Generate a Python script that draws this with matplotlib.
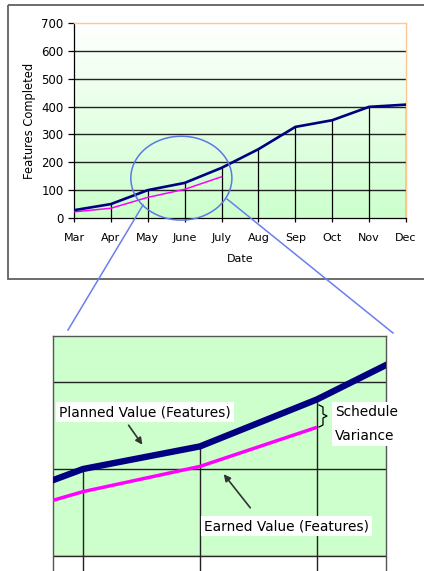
import numpy as np
import matplotlib
matplotlib.use("Agg")
import matplotlib.pyplot as plt
from matplotlib.patches import Ellipse, Rectangle, FancyArrowPatch
from matplotlib.colors import LinearSegmentedColormap

# ---- data ----
months = ["Mar", "Apr", "May", "June", "July", "Aug", "Sep", "Oct", "Nov", "Dec"]
planned = [28, 50, 100, 126, 180, 247, 327, 351, 399, 407]
earned = [22, 35, 74, 103, 148]
yticks = [0, 100, 200, 300, 400, 500, 600, 700]

W, H = 424, 571
fig = plt.figure(figsize=(W / 100, H / 100), dpi=100)
fig.patch.set_facecolor("white")


def px_axes(l, t, r, b):
    return fig.add_axes([l / W, (H - b) / H, (r - l) / W, (b - t) / H])


x = np.arange(len(months))
xe = np.arange(len(earned))
NAVY = "#000080"
MAG = "#ff00ff"
GREEN = "#ccffcc"

# ---- top chart ----
ax = px_axes(74, 23, 406, 218)
grad = LinearSegmentedColormap.from_list("g", ["white", GREEN])
img = np.linspace(1, 0, 256).reshape(-1, 1)
ax.imshow(img, cmap=grad, vmin=0, vmax=1, extent=[0, len(months) - 1, 0, 700],
          aspect="auto", zorder=0, origin="lower")
ax.set_xlim(0, len(months) - 1)
ax.set_ylim(0, 700)
for v in yticks[1:-1]:
    ax.axhline(v, color="#222222", lw=1.0, zorder=1)
ax.vlines(x[1:], 0, planned[1:], color="black", lw=0.9, zorder=2)
ax.plot(xe, earned, color=MAG, lw=1.1, zorder=3)
ax.plot(x, planned, color=NAVY, lw=1.9, zorder=4)
ax.set_xticks(x)
ax.set_xticklabels(months)
ax.set_yticks(yticks)
ax.tick_params(axis="x", direction="out", length=3, width=0.9, pad=8, labelsize=8, colors="black")
ax.tick_params(axis="y", direction="out", length=4.5, width=0.9, pad=3, labelsize=8.5)
for s in ["top", "right"]:
    ax.spines[s].set_color("#ffc890")
    ax.spines[s].set_linewidth(1)
for s in ["left", "bottom"]:
    ax.spines[s].set_color("black")
    ax.spines[s].set_linewidth(0.9)
ax.set_xlabel("Date", fontsize=8, labelpad=8)
ax.set_ylabel("Features Completed", fontsize=8.3, labelpad=4)
ax.add_patch(Ellipse((2.91, 143), 2.74, 301, fill=False, edgecolor="#5a78e6",
                     lw=1.1, clip_on=False, zorder=6))

# ---- bottom (zoomed) chart ----
bx = px_axes(53, 336, 386, 571)
bx.set_xlim(1.744, 4.59)
bx.set_ylim(-17.2, 252.9)
bx.axhspan(0, 300, color=GREEN, zorder=0, lw=0)
for v in [100, 200]:
    bx.axhline(v, color="#222222", lw=1.0, zorder=1)
bx.axhline(0, color="#222222", lw=1.0, zorder=1)
bx.axhline(1.2, color="#e0a060", lw=0.8, zorder=1)
bx.vlines(x[2:5], -17.2, planned[2:5], color="#222222", lw=1.0, zorder=2)
bx.plot(xe, earned, color=MAG, lw=2.5, zorder=3, solid_capstyle="butt")
bx.plot(x, planned, color=NAVY, lw=4.6, zorder=4, solid_capstyle="butt")
bx.set_xticks([])
bx.set_yticks([])
for s in ["left", "right", "top"]:
    bx.spines[s].set_color("#555555")
    bx.spines[s].set_linewidth(1.0)
bx.spines["bottom"].set_visible(False)

# ---- overlay in pixel coords ----
ov = fig.add_axes([0, 0, 1, 1])
ov.set_xlim(0, W)
ov.set_ylim(H, 0)
ov.axis("off")
ov.patch.set_visible(False)
# outer frame of top chart
ov.add_patch(Rectangle((8, 5), 430, 274, fill=False, edgecolor="#606060", lw=1.3))
# connector lines
ov.plot([143, 68], [205, 330], color="#6a7ff0", lw=1.1)
ov.plot([227, 393], [199, 333], color="#6a7ff0", lw=1.1)

fs = 9.9
ov.text(59, 412, "Planned Value (Features)", fontsize=fs, va="center", ha="left",
        bbox=dict(facecolor="white", edgecolor="none", pad=2.5))
ov.text(204, 526, "Earned Value (Features)", fontsize=fs, va="center", ha="left",
        bbox=dict(facecolor="white", edgecolor="none", pad=2.5))
ov.text(335, 424, "Schedule\nVariance", fontsize=fs, va="center", ha="left",
        linespacing=1.85, bbox=dict(facecolor="white", edgecolor="none", pad=2.5))
ov.add_patch(FancyArrowPatch((127, 423), (144, 447), arrowstyle="-|>",
                             mutation_scale=10, color="#333333", lw=1.2))
ov.add_patch(FancyArrowPatch((252, 510), (222, 472), arrowstyle="-|>",
                             mutation_scale=10, color="#333333", lw=1.2))
# brace
ov.plot([319, 323, 323, 327, 323, 323, 319],
        [405, 407, 414, 416, 418, 425, 427], color="black", lw=0.9)

fig.savefig("out.png", dpi=100)
